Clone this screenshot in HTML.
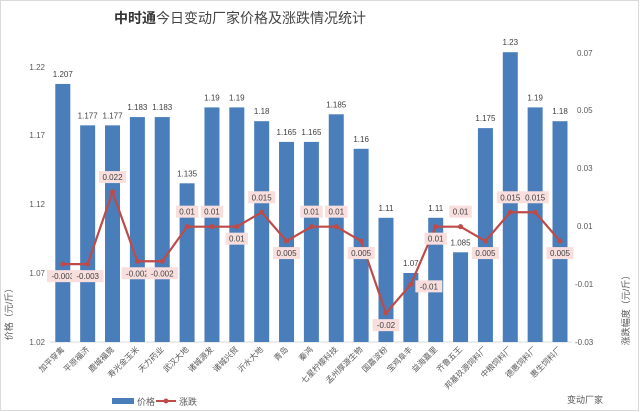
<!DOCTYPE html>
<html><head><meta charset="utf-8"><style>
html,body{margin:0;padding:0;background:#fff;}
svg{display:block;font-family:"Liberation Sans","Noto Sans CJK SC",sans-serif;}
</style></head><body>
<svg id="c" width="640" height="412" viewBox="0 0 640 412" xmlns="http://www.w3.org/2000/svg">
<rect x="0.5" y="0.5" width="638" height="410" fill="#fff" stroke="#d9d9d9"/>
<text x="240" y="23" font-size="14" text-anchor="middle" fill="#444"><tspan font-weight="bold" fill="#333">中时通</tspan>今日变动厂家价格及涨跌情况统计</text>
<g font-size="8" fill="#595959" text-anchor="end">
<text x="45" y="70">1.22</text><text x="45" y="138">1.17</text><text x="45" y="207">1.12</text><text x="45" y="276">1.07</text><text x="45" y="345">1.02</text>
</g>
<g font-size="8" fill="#595959">
<text x="577" y="56">0.07</text><text x="577" y="113">0.05</text><text x="577" y="171">0.03</text><text x="577" y="229">0.01</text><text x="575" y="287">-0.01</text><text x="575" y="345">-0.03</text>
</g>
<text transform="translate(12,312) rotate(-90)" font-size="9" fill="#595959" text-anchor="middle">价格（元/斤）</text>
<text transform="translate(629,308) rotate(-90)" font-size="9" fill="#595959" text-anchor="middle">涨跌幅度（元/斤）</text>
<line x1="50" y1="342" x2="572" y2="342" stroke="#d9d9d9"/>
<g id="bars"></g>
<g id="line"></g>
<g id="cats" font-size="8" fill="#595959"></g>
<text x="603" y="403" font-size="9" fill="#595959" text-anchor="end">变动厂家</text>
<rect x="112" y="398" width="22" height="6" fill="#4a7ebb"/>
<text x="137" y="405" font-size="9" fill="#595959">价格</text>
<line x1="156" y1="401" x2="176" y2="401" stroke="#be4b48" stroke-width="2"/>
<circle cx="166" cy="401" r="2.5" fill="#be4b48"/>
<text x="179" y="405" font-size="9" fill="#595959">涨跌</text>
</svg>
<script>
var P=[1.207,1.177,1.177,1.183,1.183,1.135,1.19,1.19,1.18,1.165,1.165,1.185,1.16,1.11,1.07,1.11,1.085,1.175,1.23,1.19,1.18];
var D=[-0.003,-0.003,0.022,-0.002,-0.002,0.01,0.01,0.01,0.015,0.005,0.01,0.01,0.005,-0.02,-0.01,0.01,0.01,0.005,0.015,0.015,0.005];
var Pos=['b','b','a','b','b','a','a','b','a','b','a','a','b','b','r','b','a','b','a','a','b'];
var N=["加平穿禽","平原福济","鹿城福竟","寿光金玉米","天力药业","武汉大地","诸城源发","诸城兴贸","沂水大地","青岛","秦鸿","七星柠檬科技","孟州厚源生物","国嘉淀粉","宝鸡阜丰","益海嘉里","齐鲁五王","邦基玖源饲料厂","中粮饲料厂","德惠饲料厂","惠生饲料厂"];
var ns="http://www.w3.org/2000/svg";
function el(t,a,p,txt){var e=document.createElementNS(ns,t);for(var k in a)e.setAttribute(k,a[k]);if(txt!=null)e.textContent=txt;p.appendChild(e);return e;}
var bars=document.getElementById('bars'),line=document.getElementById('line'),cats=document.getElementById('cats');
var pts=[];
for(var i=0;i<21;i++){
 var cx=62.8+i*24.86;
 var y=342-(P[i]-1.02)*1380;
 el('rect',{x:cx-7.5,y:y,width:15,height:342-y,fill:'#4a7ebb'},bars);
 el('text',{x:cx,y:y-7,'font-size':8,fill:'#404040','text-anchor':'middle'},bars,String(P[i]));
 var ly=255.5-D[i]*2883;pts.push([cx,ly]);
 el('text',{transform:'translate('+(cx+2)+',350) rotate(-45)','text-anchor':'end'},cats,N[i]);
}
el('polyline',{points:pts.map(function(p){return p.join(',')}).join(' '),fill:'none',stroke:'#be4b48','stroke-width':2.2},line);
for(var i=0;i<21;i++){
 var p=pts[i];el('circle',{cx:p[0],cy:p[1],r:2.5,fill:'#be4b48'},line);
 var t=String(D[i]),w=t.length*4.6+4,lx=p[0],lyy;
 if(Pos[i]=='a')lyy=p[1]-14;else if(Pos[i]=='b')lyy=p[1]+13;else{lx=p[0]+18;lyy=p[1]+3;}
 el('rect',{x:lx-w/2,y:lyy-7,width:w,height:12,fill:'#f8dedd'},line);
 el('text',{x:lx,y:lyy+2,'font-size':8,fill:'#404040','text-anchor':'middle'},line,t);
}
</script>
</body></html>
